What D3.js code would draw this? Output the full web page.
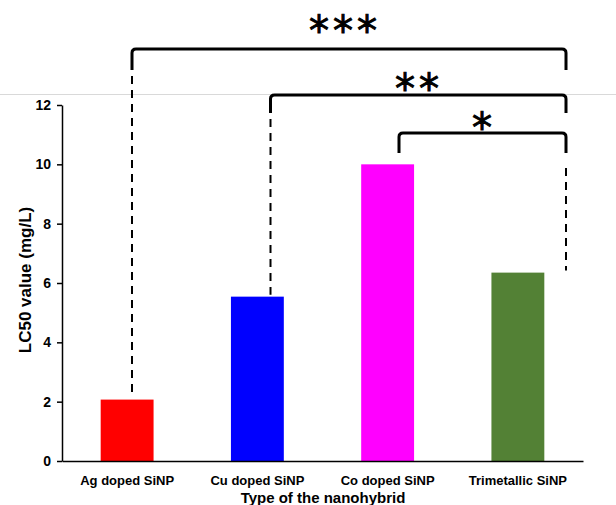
<!DOCTYPE html>
<html>
<head>
<meta charset="UTF-8">
<style>
body { margin:0; background:#fff; }
svg { display:block; font-family: "Liberation Sans", Arial, sans-serif; }
</style>
</head>
<body>
<svg width="616" height="505"></svg>
<script src="https://cdn.jsdelivr.net/npm/d3@7"></script>
<script>
const categories = ['Ag doped SiNP', 'Cu doped SiNP', 'Co doped SiNP', 'Trimetallic SiNP'];
const values = [2.07, 5.54, 10.0, 6.35];
const colors = ['#ff0000', '#0000ff', '#ff00ff', '#538135'];
const yTicks = [0, 2, 4, 6, 8, 10, 12];
// significance brackets: [from index, to index, stars]
const brackets = [[0, 3, '***'], [1, 3, '**'], [2, 3, '*']];

const svg = d3.select('svg');
const x = d3.scaleBand().domain(categories).range([62, 583]).paddingInner(0.594).paddingOuter(0.297);
const y = d3.scaleLinear().domain([0, 12]).range([461, 105]);

// faint grey line across the picture
svg.append('line').attr('x1', 0).attr('x2', 616).attr('y1', 94.5).attr('y2', 94.5)
  .attr('stroke', '#d9d9d9').attr('stroke-width', 1);

svg.selectAll('.bar').data(values).enter().append('rect')
  .attr('x', (d, i) => x(categories[i]))
  .attr('width', x.bandwidth())
  .attr('y', d => y(d))
  .attr('height', d => y(0) - y(d))
  .attr('fill', (d, i) => colors[i]);

const yAxis = svg.append('g').attr('transform', 'translate(62,0)')
  .call(d3.axisLeft(y).tickValues(yTicks).tickSize(5).tickSizeOuter(0));
yAxis.select('.domain').attr('stroke', '#000').attr('stroke-width', 1.5);
yAxis.selectAll('.tick line').attr('stroke-width', 1.5);
yAxis.selectAll('text').attr('font-size', 14).attr('font-weight', 'bold').attr('fill', '#000')
  .attr('font-family', '"Liberation Sans", Arial, sans-serif').attr('x', -11);

const xAxis = svg.append('g').attr('transform', 'translate(0,461)')
  .call(d3.axisBottom(x).tickSize(0).tickPadding(0));
xAxis.select('.domain').attr('stroke', '#000').attr('stroke-width', 1.5);
xAxis.selectAll('text').attr('font-size', 13).attr('font-weight', 'bold').attr('fill', '#000')
  .attr('font-family', '"Liberation Sans", Arial, sans-serif').attr('dy', '1.85em');

svg.append('text').attr('x', 323).attr('y', 503).attr('text-anchor', 'middle')
  .attr('font-size', 15).attr('font-weight', 'bold').text('Type of the nanohybrid');
svg.append('text').attr('transform', 'translate(31,280) rotate(-90)').attr('text-anchor', 'middle')
  .attr('font-size', 17).attr('font-weight', 'bold').text('LC50 value (mg/L)');

// annotation anchor x positions and bracket levels (as drawn in the figure)
const anchorX = [132, 270.5, 399, 566];
const levelY = [49, 95, 133];
const stemY = [70, 113, 153];
const starY = [45, 103, 142];
const starX = [345, 419, 484];

brackets.forEach(([a, b, s], k) => {
  const x1 = anchorX[a], x2 = anchorX[b], ly = levelY[k], sy = stemY[k], r = 4;
  svg.append('path')
    .attr('d', `M${x1},${sy} V${ly + r} Q${x1},${ly} ${x1 + r},${ly} H${x2 - r} Q${x2},${ly} ${x2},${ly + r} V${sy}`)
    .attr('fill', 'none').attr('stroke', '#000').attr('stroke-width', 3);
  svg.append('text').attr('x', starX[k]).attr('y', starY[k]).attr('text-anchor', 'middle')
    .attr('font-size', 40).attr('font-family', '"DejaVu Sans", sans-serif')
    .attr('stroke', '#000').attr('stroke-width', 0.9)
    .attr('letter-spacing', 4).text(s);
});

// dashed connectors from brackets down to bar tops
const dashes = [[0, 70], [1, 113], [3, 162]];
dashes.forEach(([i, top]) => {
  svg.append('line').attr('x1', anchorX[i]).attr('x2', anchorX[i]).attr('y1', top + 6).attr('y2', y(values[i]) - 2)
    .attr('stroke', '#000').attr('stroke-width', 2).attr('stroke-dasharray', '8,6');
});
</script>
</body>
</html>
